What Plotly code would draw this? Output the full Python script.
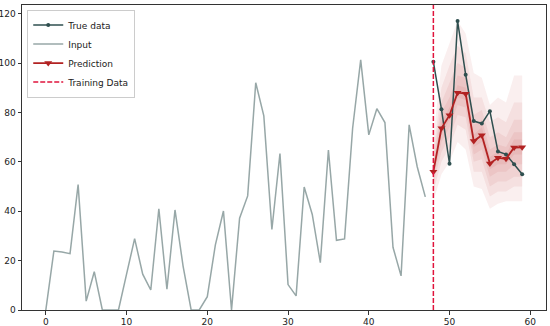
import plotly.graph_objects as go

# input window (steps 0..47)
input_x = list(range(48))
input_y = [0, 23.9, 23.5, 22.8, 50.8, 3.6, 15.5, 0, 0, 0,
           14.5, 28.9, 14.5, 8.1, 41.0, 8.4, 40.5, 17.8, 0, 0,
           5.4, 26.4, 40.1, 0, 37.2, 46.2, 92.0, 78.6, 32.6, 63.3,
           10.3, 5.7, 49.8, 38.7, 19.2, 64.8, 28.2, 28.8, 73.6, 101.3,
           70.9, 81.5, 75.9, 25.4, 13.8, 75.0, 58.0, 45.8]

# forecast horizon (steps 48..59)
horizon_x = list(range(48, 60))
true_y = [100.5, 81.3, 59.2, 117.0, 95.3, 76.5, 75.5, 80.5, 64.2, 63.0, 59.0, 55.0]
pred_y = [56.0, 73.6, 78.9, 88.0, 87.6, 68.4, 70.8, 59.3, 61.6, 61.2, 65.8, 65.9]

# quantile bands, outermost first
band_lo = [
    [44, 55, 60, 68, 65, 50, 49, 41, 43, 44, 44, 44],
    [48, 60, 66, 75, 73, 56, 56, 46, 48, 48, 50, 50],
    [51, 64, 70, 79, 78, 60, 61, 50, 52, 52, 54, 54],
    [53, 68, 74, 83, 82, 63, 65, 54, 56, 56, 59, 59],
    [55, 71, 77, 86, 85, 66, 68, 57, 59, 59, 63, 63],
]
band_hi = [
    [70, 99, 108, 117, 112, 96, 94, 83, 86, 84, 95, 95],
    [64, 90, 99, 107, 104, 86, 86, 76, 78, 76, 84, 84],
    [61, 84, 92, 100, 98, 79, 81, 70, 72, 70, 77, 77],
    [59, 80, 86, 95, 94, 75, 77, 65, 67, 66, 72, 72],
    [57, 76, 82, 91, 90, 71, 74, 62, 64, 63, 69, 69],
]

split_x = 48

fig = go.Figure()

for lo, hi in zip(band_lo, band_hi):
    fig.add_trace(go.Scatter(
        x=horizon_x + horizon_x[::-1], y=hi + lo[::-1],
        fill="toself", fillcolor="rgba(178,34,34,0.07)",
        line=dict(width=0), mode="lines", showlegend=False, hoverinfo="skip",
    ))

fig.add_trace(go.Scatter(
    x=horizon_x, y=true_y, name="True data", mode="lines+markers",
    line=dict(color="#2f4f4f", width=1.5),
    marker=dict(size=4, color="#2f4f4f"),
))
fig.add_trace(go.Scatter(
    x=input_x, y=input_y, name="Input", mode="lines",
    line=dict(color="rgba(47,79,79,0.5)", width=1.5),
))
fig.add_trace(go.Scatter(
    x=horizon_x, y=pred_y, name="Prediction", mode="lines+markers",
    line=dict(color="#b22222", width=1.8),
    marker=dict(symbol="triangle-down", size=7, color="#b22222"),
))
# legend entry for the vertical split line
fig.add_trace(go.Scatter(
    x=[None], y=[None], name="Training Data", mode="lines",
    line=dict(color="#e0143c", width=1.5, dash="5px,2px"),
))
fig.add_vline(x=split_x, line=dict(color="#e0143c", width=1.5, dash="5px,2px"))

axis_common = dict(
    showgrid=False, zeroline=False, showline=True, linecolor="#333",
    linewidth=1, mirror=True, ticks="outside", ticklen=3.5, automargin=False,
    tickcolor="#333", tickfont=dict(family="DejaVu Sans", size=9, color="#222"),
)
fig.update_xaxes(range=[-2.95, 61.95], tickvals=[0, 10, 20, 30, 40, 50, 60], **axis_common)
fig.update_yaxes(range=[0, 123.5], tickvals=[0, 20, 40, 60, 80, 100, 120], **axis_common)

fig.update_layout(
    width=550, height=326,
    margin=dict(l=22, r=4, t=5, b=16),
    plot_bgcolor="white", paper_bgcolor="white",
    font=dict(family="DejaVu Sans", size=9, color="#222"),
    legend=dict(
        x=0.01, y=0.985, xanchor="left", yanchor="top",
        bgcolor="rgba(255,255,255,0.85)", bordercolor="#ccc", borderwidth=1,
        font=dict(size=9), itemwidth=30, tracegroupgap=0,
    ),
)

# page body has a default 8px margin; drop it so the figure fills the window
fig.write_html(
    "out.html",
    config={"displayModeBar": False},
    post_script="document.body.style.margin='0';",
)
